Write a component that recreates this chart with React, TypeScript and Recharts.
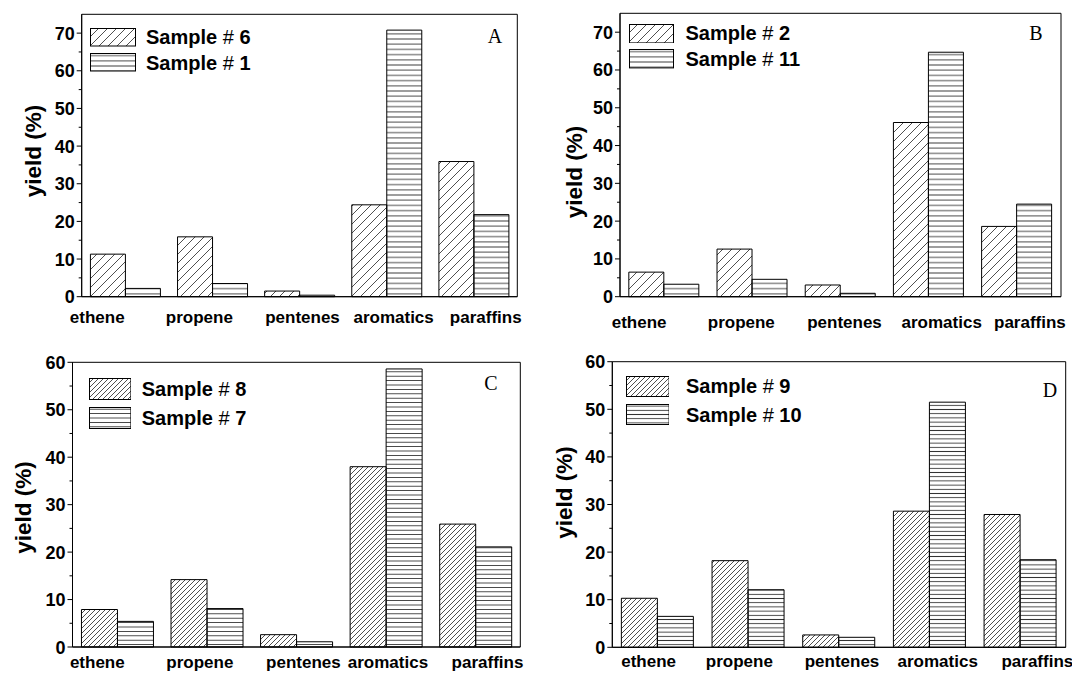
import React from 'react';
import { BarChart, Bar, XAxis, YAxis, Legend, ReferenceArea } from 'recharts';

const W = 1072;
const H = 674;
const SANS = '"Liberation Sans", Arial, Helvetica, sans-serif';
const SERIF = '"Liberation Serif", "Times New Roman", serif';

// data
const categories = ['ethene', 'propene', 'pentenes', 'aromatics', 'paraffins'];

const sample6 = [11.3, 15.9, 1.5, 24.4, 35.9];
const sample1 = [2.2, 3.5, 0.4, 70.8, 21.8];
const sample2 = [6.5, 12.6, 3.1, 46.1, 18.6];
const sample11 = [3.3, 4.6, 0.9, 64.7, 24.5];
const sample8 = [7.9, 14.2, 2.6, 38.0, 25.9];
const sample7 = [5.4, 8.1, 1.1, 58.6, 21.1];
const sample9 = [10.3, 18.2, 2.6, 28.6, 27.9];
const sample10 = [6.5, 12.1, 2.1, 51.5, 18.4];

const ticks75 = [0, 5, 10, 15, 20, 25, 30, 35, 40, 45, 50, 55, 60, 65, 70];
const ticks60 = [0, 5, 10, 15, 20, 25, 30, 35, 40, 45, 50, 55, 60];

type Panel = {
  id: string;
  names: string[];
  series: number[][];
  max: number;
  ticks: number[];
  left: number;
  right: number;
  top: number;
  bottom: number;
  hatch: number;
  hline: number;
  labelShift: number[];
  labelY: number;
  ylab: { x: number; y: number };
  letter: { x: number; y: number };
  legend: { x: number; y: number; pitch: number; boxW: number; boxH: number; gap: number };
};

const panels: Panel[] = [
  {
    id: 'A', names: ['Sample # 6', 'Sample # 1'], series: [sample6, sample1], max: 75, ticks: ticks75,
    left: 81.7, right: 517.3, top: 14.3, bottom: 296.7, hatch: 9, hline: 5.2,
    labelShift: [-28, -13, 3, 7, 12], labelY: 323,
    ylab: { x: 33, y: 151 }, letter: { x: 495, y: 43 },
    legend: { x: 90, y: 24.8, pitch: 25.3, boxW: 45, boxH: 17.5, gap: 10 },
  },
  {
    id: 'B', names: ['Sample # 2', 'Sample # 11'], series: [sample2, sample11], max: 75, ticks: ticks75,
    left: 620, right: 1061, top: 13.3, bottom: 296.7, hatch: 9, hline: 5.2,
    labelShift: [-25, -11, 4, 13, 13], labelY: 328,
    ylab: { x: 574, y: 172 }, letter: { x: 1036, y: 40 },
    legend: { x: 629, y: 20.6, pitch: 25.7, boxW: 44, boxH: 18.4, gap: 11.5 },
  },
  {
    id: 'C', names: ['Sample # 8', 'Sample # 7'], series: [sample8, sample7], max: 60, ticks: ticks60,
    left: 72.5, right: 520.3, top: 362.3, bottom: 647, hatch: 5, hline: 4.4,
    labelShift: [-20, -7, 7, 2, 12], labelY: 668,
    ylab: { x: 23.5, y: 507.5 }, letter: { x: 491, y: 390 },
    legend: { x: 89, y: 374.3, pitch: 29, boxW: 41.4, boxH: 21, gap: 10.4 },
  },
  {
    id: 'D', names: ['Sample # 9', 'Sample # 10'], series: [sample9, sample10], max: 60, ticks: ticks60,
    left: 612.3, right: 1065.7, top: 361.7, bottom: 647.3, hatch: 5, hline: 4.2,
    labelShift: [-9, -9, 3, 8, 17], labelY: 667,
    ylab: { x: 564, y: 492.5 }, letter: { x: 1050, y: 397 },
    legend: { x: 625.7, y: 372.2, pitch: 28.5, boxW: 42.6, boxH: 20, gap: 16.7 },
  },
];

function Patterns() {
  return (
    <svg width={0} height={0} style={{ position: 'absolute' }}>
      <defs>
        {panels.map((p) => (
          <React.Fragment key={p.id}>
            <pattern id={`${p.id}-d`} patternUnits="userSpaceOnUse" width={p.hatch} height={p.hatch}>
              <path
                d={`M0,${p.hatch} L${p.hatch},0 M-1,1 L1,-1 M${p.hatch - 1},${p.hatch + 1} L${p.hatch + 1},${p.hatch - 1}`}
                stroke="#222"
                strokeWidth={0.8}
              />
            </pattern>
            <pattern id={`${p.id}-h`} patternUnits="userSpaceOnUse" width={10} height={p.hline}>
              <line x1={0} x2={10} y1={p.hline / 2} y2={p.hline / 2} stroke="#333" strokeWidth={0.9} />
            </pattern>
          </React.Fragment>
        ))}
      </defs>
    </svg>
  );
}

const yTick = (axisX: number) => (props: any) => {
  const { y, payload } = props;
  const v = payload.value;
  const major = v % 10 === 0;
  return (
    <g>
      <line x1={axisX - (major ? 5 : 3)} x2={axisX} y1={y} y2={y} stroke="#000" strokeWidth={1} />
      {major && (
        <text x={axisX - 7} y={y + 6.5} textAnchor="end" fontFamily={SANS} fontWeight={700} fontSize={18} fill="#000">
          {v}
        </text>
      )}
    </g>
  );
};

const xTick = (p: Panel) => (props: any) => (
  <text
    x={props.x + p.labelShift[props.index]}
    y={p.labelY}
    textAnchor="middle"
    fontFamily={SANS}
    fontWeight={700}
    fontSize={17}
    fill="#000"
  >
    {props.payload.value}
  </text>
);

function legendContent(p: Panel) {
  const fills = [`url(#${p.id}-d)`, `url(#${p.id}-h)`];
  return () => (
    <div style={{ fontFamily: SANS, fontWeight: 700, fontSize: 20, color: '#000' }}>
      {p.names.map((n, i) => {
        const [pre, post] = n.split('#');
        return (
          <div key={n} style={{ display: 'flex', alignItems: 'center', height: p.legend.pitch }}>
            <svg width={p.legend.boxW + 1} height={p.legend.boxH + 1} style={{ display: 'block' }}>
              <rect x={0.5} y={0.5} width={p.legend.boxW} height={p.legend.boxH} fill={fills[i]} stroke="#000" />
            </svg>
            <span style={{ marginLeft: p.legend.gap, lineHeight: 1, whiteSpace: 'pre' }}>
              {pre}
              <span style={{ fontWeight: 400 }}>#</span>
              {post}
            </span>
          </div>
        );
      })}
    </div>
  );
}

function PanelChart({ p }: { p: Panel }) {
  const data = categories.map((c, i) => ({ cat: c, s0: p.series[0][i], s1: p.series[1][i] }));
  return (
    <div style={{ position: 'absolute', left: 0, top: 0 }}>
      <BarChart
        width={W}
        height={H}
        data={data}
        margin={{ top: p.top, right: W - p.right, bottom: H - p.bottom - 30, left: p.left - 60 }}
        barCategoryGap="10%"
        barGap={0}
      >
        <XAxis
          dataKey="cat"
          height={30}
          interval={0}
          tickLine={false}
          axisLine={{ stroke: '#000', strokeWidth: 1 }}
          tick={xTick(p)}
        />
        <YAxis
          width={60}
          domain={[0, p.max]}
          ticks={p.ticks}
          interval={0}
          tickLine={false}
          axisLine={{ stroke: '#000', strokeWidth: 1 }}
          tick={yTick(p.left)}
          label={() => (
            <text
              x={p.ylab.x}
              y={p.ylab.y}
              transform={`rotate(-90 ${p.ylab.x} ${p.ylab.y})`}
              textAnchor="middle"
              dominantBaseline="central"
              fontFamily={SANS}
              fontWeight={700}
              fontSize={22.5}
              fill="#000"
            >
              yield (%)
            </text>
          )}
        />
        <Legend
          layout="vertical"
          align="center"
          verticalAlign="middle"
          content={legendContent(p)}
          wrapperStyle={{ left: p.legend.x, top: p.legend.y, width: 'auto' }}
        />
        <Bar dataKey="s0" name={p.names[0]} fill={`url(#${p.id}-d)`} stroke="#000" strokeWidth={1} isAnimationActive={false} />
        <Bar dataKey="s1" name={p.names[1]} fill={`url(#${p.id}-h)`} stroke="#000" strokeWidth={1} isAnimationActive={false} />
        <ReferenceArea
          x1={categories[0]}
          x2={categories[categories.length - 1]}
          y1={0}
          y2={p.max}
          fill="none"
          fillOpacity={0}
          stroke="#000"
          strokeWidth={1}
          label={() => (
            <text x={p.letter.x} y={p.letter.y} textAnchor="middle" fontFamily={SERIF} fontSize={20} fill="#000">
              {p.id}
            </text>
          )}
        />
      </BarChart>
    </div>
  );
}

export default function App() {
  return (
    <div style={{ position: 'absolute', left: 0, top: 0, width: W, height: H, background: '#fff' }}>
      <Patterns />
      {panels.map((p) => (
        <PanelChart key={p.id} p={p} />
      ))}
    </div>
  );
}
